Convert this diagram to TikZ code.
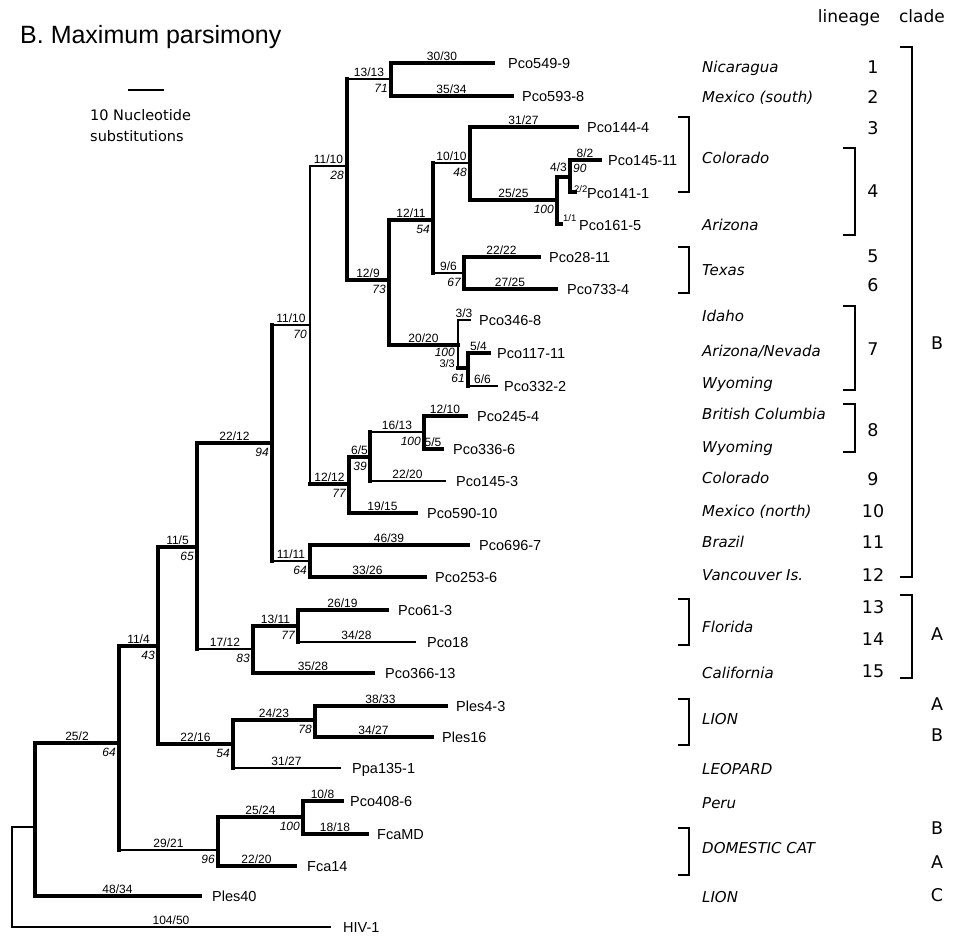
\documentclass[tikz,border=0pt]{standalone}
\usepackage{fontspec}
\setmainfont{Liberation Sans}
\newfontfamily\dvfont{DejaVu Sans}
\usetikzlibrary{calc}
\tikzset{
 thk/.style={line width=3.2pt, line cap=rect},
 thn/.style={line width=2pt, line cap=rect},
 tax/.style={font=\fontsize{14.5}{17}\selectfont, anchor=base west, inner sep=0pt, yshift=-5.2pt},
 stp/.style={font=\fontsize{12}{14}\selectfont, anchor=base, inner sep=0pt, yshift=2.8pt},
 tiny/.style={font=\fontsize{9.5}{11}\selectfont, inner sep=0pt},
 boot/.style={font=\fontsize{12}{14}\selectfont\itshape, anchor=north east, inner sep=0pt},
 loc/.style={font=\dvfont\fontsize{15}{18}\selectfont\itshape, anchor=base west, inner sep=0pt, yshift=-5.5pt},
 lin/.style={font=\dvfont\fontsize{17.5}{21}\selectfont, anchor=base, inner sep=0pt, yshift=-6.4pt},
 dvt/.style={font=\dvfont\fontsize{14.5}{17}\selectfont, anchor=base west, inner sep=0pt, yshift=-5.2pt},
 brk/.style={line width=1.4pt},
}
\newcommand\ibranch[5]{%
 \draw[#3] (#1|-#2) -- (#2);
 \node[stp] at ($(#1|-#2)!0.5!(#2)$) {#4};
 \node[boot] at ([shift={(-3,5)}]#2) {#5};}
\newcommand\tleaf[4]{%
 \draw[#3] (#1|-#2) -- (#2);
 \node[stp] at ($(#1|-#2)!0.5!(#2)$) {#4};}
\begin{document}
\begin{tikzpicture}[x=1pt,y=-1pt]
\useasboundingbox (0,0) rectangle (966,937);
\fill[white] (0,0) rectangle (966,937);
% title and scale
\node[anchor=base west, font=\fontsize{25}{30}\selectfont, inner sep=0pt] (title) at (20,43) {B. Maximum parsimony};
\coordinate (s1) at (128,90); \coordinate (s2) at (164,90);
\draw[line width=1.8pt] (s1) -- (s2);
\node[dvt] (sc1) at (90,115) {10 Nucleotide};
\node[dvt] (sc2) at (90,136) {substitutions};
\node[font=\dvfont\fontsize{17}{20}\selectfont, anchor=base, inner sep=0pt] (hl) at (849,22) {lineage};
\node[font=\dvfont\fontsize{17}{20}\selectfont, anchor=base, inner sep=0pt] (hc) at (922,22) {clade};
% internal nodes
\coordinate (R) at (12,877);
\coordinate (nA) at (35,827);
\coordinate (nB) at (119,743);
\coordinate (nC) at (158,646);
\coordinate (nD) at (197,547);
\coordinate (nE) at (272,443);
\coordinate (nF) at (310,325);
\coordinate (nG) at (347,166);
\coordinate (nH) at (391,79);
\coordinate (nI) at (389,280);
\coordinate (nJ) at (433,220);
\coordinate (nK) at (470,163);
\coordinate (nKb) at (557,200);
\coordinate (nKc) at (570,177);
\coordinate (nL) at (464,273);
\coordinate (nM) at (458,345);
\coordinate (nMb) at (468,368);
\coordinate (nN) at (349,484);
\coordinate (nO) at (370,457);
\coordinate (nP) at (424,432);
\coordinate (nR) at (310,561);
\coordinate (nS) at (253,649);
\coordinate (nT) at (298,626);
\coordinate (nU) at (233,744);
\coordinate (nV) at (315,720);
\coordinate (nW) at (218,850);
\coordinate (nX) at (303,817);
% tips
\coordinate (tHIV) at (330,927);
\coordinate (tP40) at (200,896);
\coordinate (t1) at (493,63);
\coordinate (t2) at (512,96);
\coordinate (t3) at (577,127);
\coordinate (t4) at (600,160);
\coordinate (t5) at (575,192);
\coordinate (t6) at (561,224);
\coordinate (t7) at (539,257);
\coordinate (t8) at (556,289);
\coordinate (t9) at (470,320);
\coordinate (t10) at (489,353);
\coordinate (t11) at (497,386);
\coordinate (t12) at (466,416);
\coordinate (t13) at (442,449);
\coordinate (t14) at (445,481);
\coordinate (t15) at (416,513);
\coordinate (t16) at (468,545);
\coordinate (t17) at (425,577);
\coordinate (t18) at (387,610);
\coordinate (t19) at (415,642);
\coordinate (t20) at (373,673);
\coordinate (t21) at (446,706);
\coordinate (t22) at (432,737);
\coordinate (t23) at (340,768);
\coordinate (t24) at (342,801);
\coordinate (t25) at (367,834);
\coordinate (t26) at (295,866);
% verticals
\draw[thn] (R|-nA) -- (R|-tHIV);
\draw[thk] (nA|-nB) -- (nA|-tP40);
\draw[thk] (nB|-nC) -- (nB|-nW);
\draw[thk] (nC|-nD) -- (nC|-nU);
\draw[thk] (nD|-nE) -- (nD|-nS);
\draw[thk] (nE|-nF) -- (nE|-nR);
\draw[line width=2.4pt, line cap=rect] (nF|-nG) -- (nF|-nN);
\draw[thk] (nG|-nH) -- (nG|-nI);
\draw[thk] (nH|-t1) -- (nH|-t2);
\draw[thk] (nI|-nJ) -- (nI|-nM);
\draw[thk] (nJ|-nK) -- (nJ|-nL);
\draw[thk] (nK|-t3) -- (nK|-nKb);
\draw[thk] (nKb|-nKc) -- (nKb|-t6);
\draw[thk] (nKc|-t4) -- (nKc|-t5);
\draw[thk] (nL|-t7) -- (nL|-t8);
\draw[thn] (nM|-t9) -- (nM|-nMb);
\draw[thk] (nMb|-t10) -- (nMb|-t11);
\draw[thk] (nN|-nO) -- (nN|-t15);
\draw[thk] (nO|-nP) -- (nO|-t14);
\draw[thk] (nP|-t12) -- (nP|-t13);
\draw[thk] (nR|-t16) -- (nR|-t17);
\draw[thk] (nS|-nT) -- (nS|-t20);
\draw[thk] (nT|-t18) -- (nT|-t19);
\draw[thk] (nU|-nV) -- (nU|-t23);
\draw[thk] (nV|-t21) -- (nV|-t22);
\draw[thk] (nW|-nX) -- (nW|-t26);
\draw[thk] (nX|-t24) -- (nX|-t25);
% internal branches
\draw[thn] (R|-nA) -- (nA);
\ibranch{nA}{nB}{thk}{25/2}{64}
\ibranch{nB}{nC}{thk}{11/4}{43}
\ibranch{nB}{nW}{thn}{29/21}{96}
\ibranch{nC}{nD}{thk}{11/5}{65}
\ibranch{nC}{nU}{thk}{22/16}{54}
\ibranch{nD}{nE}{thk}{22/12}{94}
\ibranch{nD}{nS}{thn}{17/12}{83}
\ibranch{nE}{nF}{thn}{11/10}{70}
\ibranch{nE}{nR}{thn}{11/11}{64}
\ibranch{nF}{nG}{thn}{11/10}{28}
\ibranch{nF}{nN}{thk}{12/12}{77}
\ibranch{nG}{nH}{thn}{13/13}{71}
\ibranch{nG}{nI}{thk}{12/9}{73}
\ibranch{nI}{nJ}{thk}{12/11}{54}
\draw[thk] (nI|-nM) -- (nM);
\node[stp] (l2020) at ($(nI|-nM)!0.5!(nM)$) {20/20};
\node[boot] (b100m) at (455,347.5) {100};
\ibranch{nJ}{nK}{thn}{10/10}{48}
\ibranch{nJ}{nL}{thn}{9/6}{67}
\ibranch{nK}{nKb}{thk}{25/25}{100}
\draw[thk] (nKb|-nKc) -- (nKc);
\node[stp, anchor=base east, yshift=0pt] (l43) at (567,174) {4/3};
\node[boot, anchor=north west] (b90) at (573,164) {90};
\draw[thk] (nM|-nMb) -- (nMb);
\node[stp, font=\fontsize{11}{13}\selectfont, anchor=base east, yshift=0pt] (l33) at (455,370.5) {3/3};
\node[boot] (b61) at (465,374) {61};
\ibranch{nN}{nO}{thk}{6/5}{39}
\ibranch{nO}{nP}{thn}{16/13}{100}
\ibranch{nS}{nT}{thk}{13/11}{77}
\ibranch{nU}{nV}{thk}{24/23}{78}
\ibranch{nW}{nX}{thk}{25/24}{100}
% terminal branches
\tleaf{nH}{t1}{thk}{30/30}
\tleaf{nH}{t2}{thk}{35/34}
\tleaf{nK}{t3}{thk}{31/27}
\tleaf{nKc}{t4}{thk}{8/2}
\draw[thk] (nKc|-t5) -- (t5);
\draw[thk] (nKb|-t6) -- (t6);
\node[tiny, anchor=base west] (l22) at (574,192) {2/2};
\node[tiny, anchor=base west] (l11) at (563,221) {1/1};
\tleaf{nL}{t7}{thk}{22/22}
\tleaf{nL}{t8}{thk}{27/25}
\tleaf{nM}{t9}{thn}{3/3}
\tleaf{nMb}{t10}{thk}{5/4}
\tleaf{nMb}{t11}{thn}{6/6}
\tleaf{nP}{t12}{thk}{12/10}
\tleaf{nP}{t13}{thk}{5/5}
\tleaf{nO}{t14}{thn}{22/20}
\tleaf{nN}{t15}{thk}{19/15}
\tleaf{nR}{t16}{thk}{46/39}
\tleaf{nR}{t17}{thk}{33/26}
\tleaf{nT}{t18}{thk}{26/19}
\tleaf{nT}{t19}{thn}{34/28}
\tleaf{nS}{t20}{thk}{35/28}
\tleaf{nV}{t21}{thk}{38/33}
\tleaf{nV}{t22}{thk}{34/27}
\tleaf{nU}{t23}{thn}{31/27}
\tleaf{nX}{t24}{thk}{10/8}
\tleaf{nX}{t25}{thk}{18/18}
\tleaf{nW}{t26}{thk}{22/20}
\tleaf{nA}{tP40}{thk}{48/34}
\tleaf{R}{tHIV}{thn}{104/50}
% taxon labels
\node[tax] (L1) at (508,63) {Pco549-9};
\node[tax] (L2) at (522,96) {Pco593-8};
\node[tax] (L3) at (587,127) {Pco144-4};
\node[tax] (L4) at (608,160) {Pco145-11};
\node[tax] (L5) at (587,193) {Pco141-1};
\node[tax] (L6) at (579,225) {Pco161-5};
\node[tax] (L7) at (549,257) {Pco28-11};
\node[tax] (L8) at (567,289) {Pco733-4};
\node[tax] (L9) at (479,320) {Pco346-8};
\node[tax] (L10) at (497,353) {Pco117-11};
\node[tax] (L11) at (504,386) {Pco332-2};
\node[tax] (L12) at (477,416) {Pco245-4};
\node[tax] (L13) at (453,449) {Pco336-6};
\node[tax] (L14) at (456,481) {Pco145-3};
\node[tax] (L15) at (427,513) {Pco590-10};
\node[tax] (L16) at (479,545) {Pco696-7};
\node[tax] (L17) at (435,577) {Pco253-6};
\node[tax] (L18) at (398,610) {Pco61-3};
\node[tax] (L19) at (427,642) {Pco18};
\node[tax] (L20) at (385,673) {Pco366-13};
\node[tax] (L21) at (456,706) {Ples4-3};
\node[tax] (L22) at (442,737) {Ples16};
\node[tax] (L23) at (352,768) {Ppa135-1};
\node[tax] (L24) at (350,801) {Pco408-6};
\node[tax] (L25) at (377,834) {FcaMD};
\node[tax] (L26) at (307,866) {Fca14};
\node[tax] (LP40) at (212,896) {Ples40};
\node[tax] (LHIV) at (343,927) {HIV-1};
% localities
\node[loc] (c1) at (702,67) {Nicaragua};
\node[loc] (c2) at (702,97) {Mexico (south)};
\node[loc] (c3) at (702,158) {Colorado};
\node[loc] (c4) at (702,225) {Arizona};
\node[loc] (c5) at (702,270) {Texas};
\node[loc] (c6) at (702,316) {Idaho};
\node[loc] (c7) at (702,351) {Arizona/Nevada};
\node[loc] (c8) at (702,383) {Wyoming};
\node[loc] (c9) at (702,414) {British Columbia};
\node[loc] (c10) at (702,447) {Wyoming};
\node[loc] (c11) at (702,478) {Colorado};
\node[loc] (c12) at (702,511) {Mexico (north)};
\node[loc] (c13) at (702,542) {Brazil};
\node[loc] (c14) at (702,575) {Vancouver Is.};
\node[loc] (c15) at (702,627) {Florida};
\node[loc] (c16) at (702,673) {California};
\node[loc] (c17) at (702,719) {LION};
\node[loc] (c18) at (702,769) {LEOPARD};
\node[loc] (c19) at (702,803) {Peru};
\node[loc] (c20) at (702,848) {DOMESTIC CAT};
\node[loc] (c21) at (702,897) {LION};
% lineage numbers
\node[lin] (g1) at (873,67) {1};
\node[lin] (g2) at (873,97) {2};
\node[lin] (g3) at (873,128) {3};
\node[lin] (g4) at (873,191) {4};
\node[lin] (g5) at (873,256) {5};
\node[lin] (g6) at (873,285) {6};
\node[lin] (g7) at (873,349) {7};
\node[lin] (g8) at (873,430) {8};
\node[lin] (g9) at (873,479) {9};
\node[lin] (g10) at (873,511) {10};
\node[lin] (g11) at (873,542) {11};
\node[lin] (g12) at (873,575) {12};
\node[lin] (g13) at (873,607) {13};
\node[lin] (g14) at (873,639) {14};
\node[lin] (g15) at (873,671) {15};
% clades
\node[lin] (k1) at (937,343) {B};
\node[lin] (k2) at (937,634) {A};
\node[lin] (k3) at (937,704) {A};
\node[lin] (k4) at (937,735) {B};
\node[lin] (k5) at (937,828) {B};
\node[lin] (k6) at (937,862) {A};
\node[lin] (k7) at (937,895) {C};
% brackets
\draw[brk] (678,117) -- (689,117) -- (689,192) -- (678,192);
\draw[brk] (678,247) -- (689,247) -- (689,293) -- (678,293);
\draw[brk] (678,599) -- (689,599) -- (689,645) -- (678,645);
\draw[brk] (678,699) -- (689,699) -- (689,745) -- (678,745);
\draw[brk] (678,828) -- (689,828) -- (689,875) -- (678,875);
\draw[brk] (843,148) -- (855,148) -- (855,235) -- (843,235);
\draw[brk] (843,306) -- (855,306) -- (855,390) -- (843,390);
\draw[brk] (843,404) -- (855,404) -- (855,452) -- (843,452);
\draw[brk] (900,47) -- (912,47) -- (912,577) -- (900,577);
\draw[brk] (900,595) -- (912,595) -- (912,678) -- (900,678);
\end{tikzpicture}
\end{document}
